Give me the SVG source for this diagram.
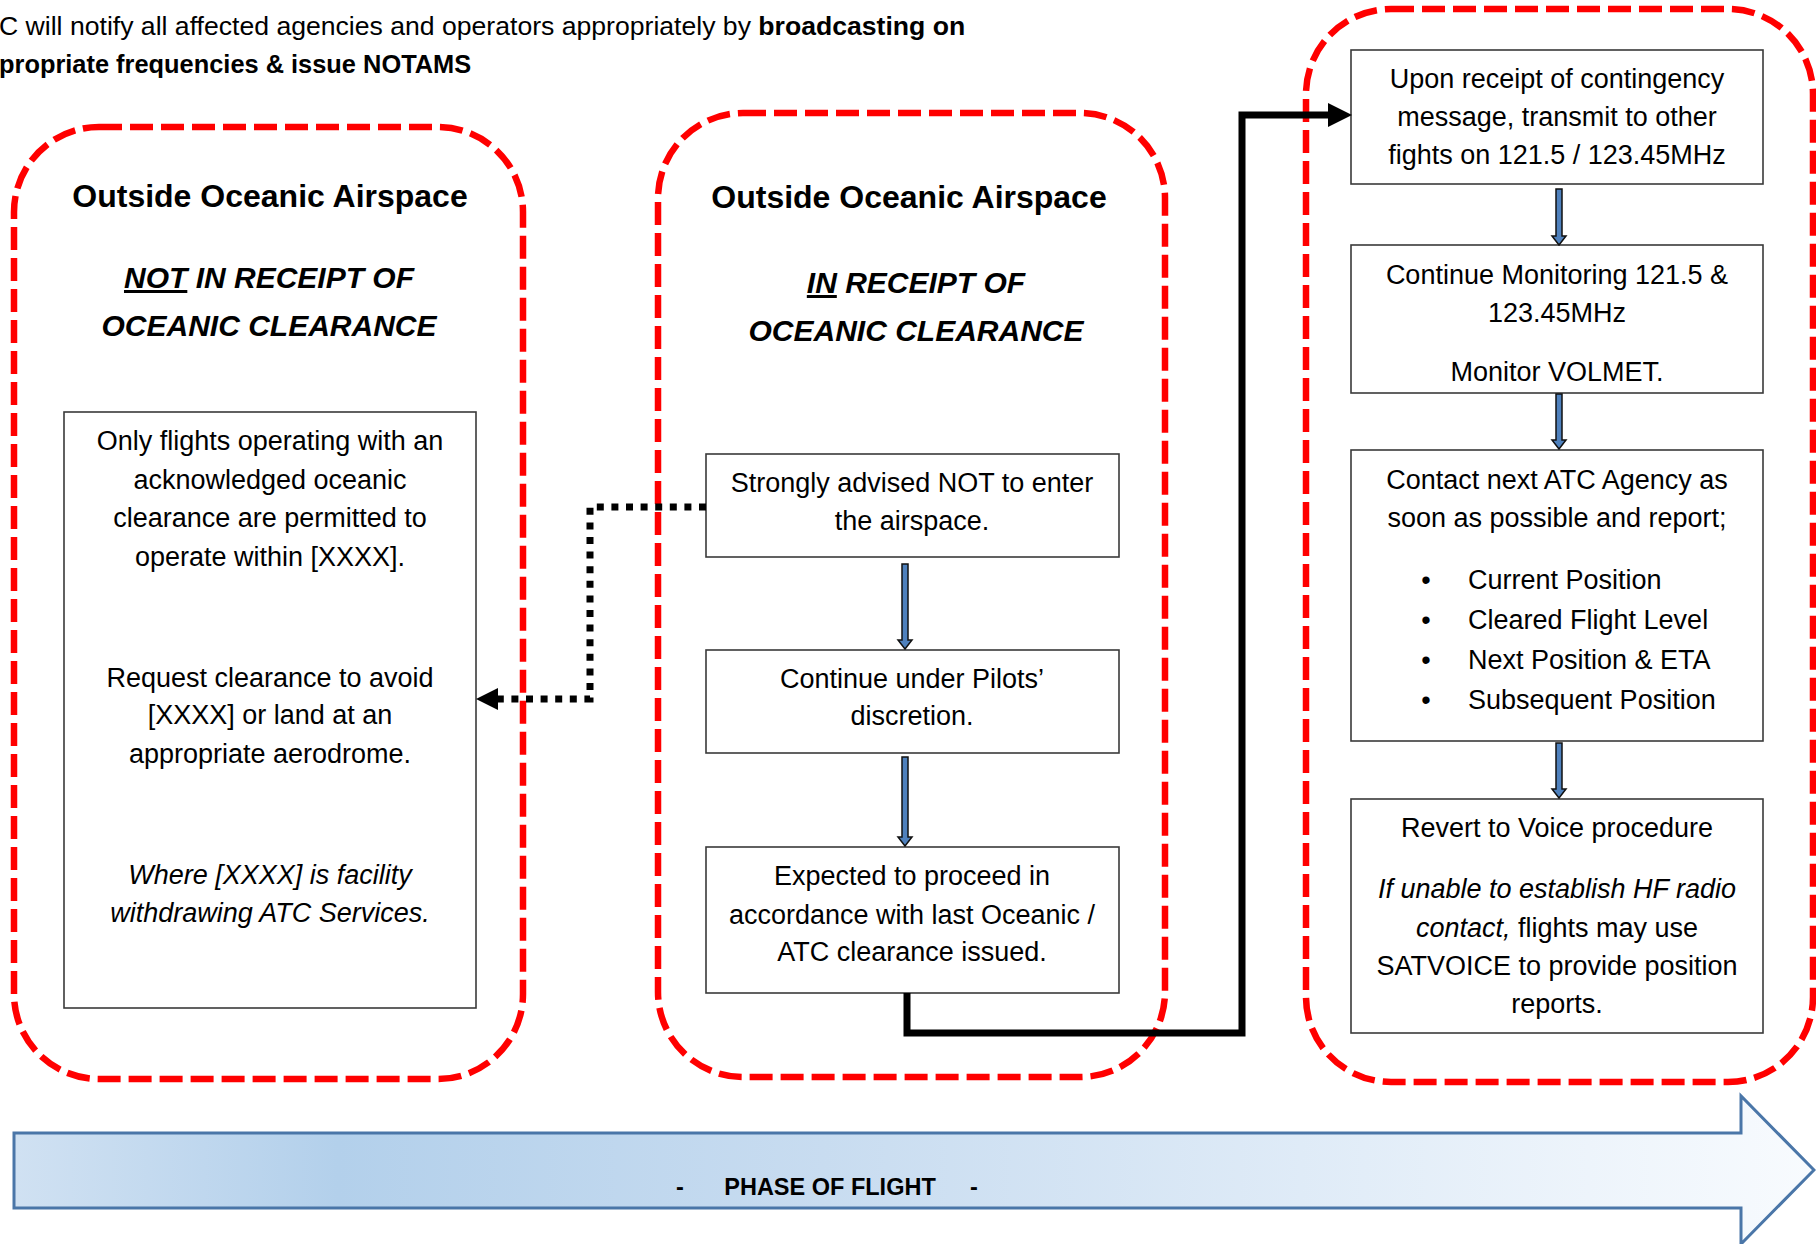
<svg xmlns="http://www.w3.org/2000/svg" width="1816" height="1244" viewBox="0 0 1816 1244">
<style>
text{font-family:"Liberation Sans",Arial,sans-serif;fill:#000}
.b{font-size:27px;text-anchor:middle}
.t{font-size:32px;font-weight:bold;text-anchor:middle}
.h{font-size:30px;font-weight:bold;font-style:italic;text-anchor:middle}
.i{font-style:italic}
.zone{fill:none;stroke:#ff0000;stroke-width:6.5;stroke-dasharray:23 8}
.box{fill:#fff;stroke:#3a3a3a;stroke-width:1.6}
.blue{fill:#4f81bd;stroke:#111;stroke-width:1.5;stroke-linejoin:miter}
</style>
<defs>
<linearGradient id="gr" x1="0" y1="0" x2="1" y2="0">
<stop offset="0" stop-color="#d0e1f2"/>
<stop offset="0.18" stop-color="#b3d0eb"/>
<stop offset="0.45" stop-color="#c8dcf0"/>
<stop offset="0.75" stop-color="#e2edf8"/>
<stop offset="1" stop-color="#f8fbfe"/>
</linearGradient>
<marker id="ah" markerUnits="userSpaceOnUse" markerWidth="24" markerHeight="24" viewBox="0 0 24 24" refX="0" refY="12" orient="auto">
<path d="M0,0 L24,12 L0,24 z" fill="#000"/>
</marker>
<marker id="ahd" markerUnits="userSpaceOnUse" markerWidth="22" markerHeight="22" viewBox="0 0 22 22" refX="0" refY="11" orient="auto">
<path d="M0,0 L22,11 L0,22 z" fill="#000"/>
</marker>
</defs>
<rect width="1816" height="1244" fill="#fff"/>

<g id="header">
<text x="-1" y="35" style="font-size:26.6px">C will notify all affected agencies and operators appropriately by <tspan font-weight="bold">broadcasting on</tspan></text>
<text x="-1" y="73" style="font-size:25.4px;font-weight:bold">propriate frequencies &amp; issue NOTAMS</text>
</g>

<g id="phase-arrow">
<path d="M14,1133 H1741 V1096 L1814,1170 L1741,1244 V1208 H14 Z" fill="url(#gr)" stroke="#4a76a8" stroke-width="3"/>
<text x="680" y="1195" style="font-size:23.5px;font-weight:bold" text-anchor="middle">-</text>
<text x="830" y="1195" style="font-size:23.5px;font-weight:bold" text-anchor="middle">PHASE OF FLIGHT</text>
<text x="974" y="1195" style="font-size:23.5px;font-weight:bold" text-anchor="middle">-</text>
</g>

<g id="zone-left">
<rect class="zone" x="14" y="127" width="509" height="952" rx="85" ry="85"/>
<text class="t" x="270" y="207">Outside Oceanic Airspace</text>
<text class="h" x="269" y="288"><tspan text-decoration="underline">NOT</tspan> IN RECEIPT OF</text>
<text class="h" x="269" y="336">OCEANIC CLEARANCE</text>
</g>

<g id="zone-middle">
<rect class="zone" x="658" y="113" width="507" height="964" rx="85" ry="85"/>
<text class="t" x="909" y="208">Outside Oceanic Airspace</text>
<text class="h" x="916" y="293"><tspan text-decoration="underline">IN</tspan> RECEIPT OF</text>
<text class="h" x="916" y="341">OCEANIC CLEARANCE</text>
</g>

<g id="zone-right">
<rect class="zone" x="1306" y="9" width="507" height="1073" rx="85" ry="85"/>
</g>

<g id="node-left-info">
<rect class="box" x="64" y="412" width="412" height="596"/>
<text class="b" x="270" y="450">Only flights operating with an</text>
<text class="b" x="270" y="489">acknowledged oceanic</text>
<text class="b" x="270" y="527">clearance are permitted to</text>
<text class="b" x="270" y="566">operate within [XXXX].</text>
<text class="b" x="270" y="687">Request clearance to avoid</text>
<text class="b" x="270" y="724">[XXXX] or land at an</text>
<text class="b" x="270" y="763">appropriate aerodrome.</text>
<text class="b i" x="270" y="884">Where [XXXX] is facility</text>
<text class="b i" x="270" y="922">withdrawing ATC Services.</text>
</g>

<g id="node-mid-1">
<rect class="box" x="706" y="454" width="413" height="103"/>
<text class="b" x="912" y="492">Strongly advised NOT to enter</text>
<text class="b" x="912" y="530">the airspace.</text>
</g>

<g id="node-mid-2">
<rect class="box" x="706" y="650" width="413" height="103"/>
<text class="b" x="912" y="688">Continue under Pilots’</text>
<text class="b" x="912" y="725">discretion.</text>
</g>

<g id="node-mid-3">
<rect class="box" x="706" y="847" width="413" height="146"/>
<text class="b" x="912" y="885">Expected to proceed in</text>
<text class="b" x="912" y="924">accordance with last Oceanic /</text>
<text class="b" x="912" y="961">ATC clearance issued.</text>
</g>

<g id="node-right-1">
<rect class="box" x="1351" y="50" width="412" height="134"/>
<text class="b" x="1557" y="88">Upon receipt of contingency</text>
<text class="b" x="1557" y="126">message, transmit to other</text>
<text class="b" x="1557" y="164">fights on 121.5 / 123.45MHz</text>
</g>

<g id="node-right-2">
<rect class="box" x="1351" y="245" width="412" height="148"/>
<text class="b" x="1557" y="284">Continue Monitoring 121.5 &amp;</text>
<text class="b" x="1557" y="322">123.45MHz</text>
<text class="b" x="1557" y="381">Monitor VOLMET.</text>
</g>

<g id="node-right-3">
<rect class="box" x="1351" y="450" width="412" height="291"/>
<text class="b" x="1557" y="489">Contact next ATC Agency as</text>
<text class="b" x="1557" y="527">soon as possible and report;</text>
<g style="font-size:27px">
<text x="1426" y="589" text-anchor="middle">•</text><text x="1468" y="589">Current Position</text>
<text x="1426" y="629" text-anchor="middle">•</text><text x="1468" y="629">Cleared Flight Level</text>
<text x="1426" y="669" text-anchor="middle">•</text><text x="1468" y="669">Next Position &amp; ETA</text>
<text x="1426" y="709" text-anchor="middle">•</text><text x="1468" y="709">Subsequent Position</text>
</g>
</g>

<g id="node-right-4">
<rect class="box" x="1351" y="799" width="412" height="234"/>
<text class="b" x="1557" y="837">Revert to Voice procedure</text>
<text class="b i" x="1557" y="898">If unable to establish HF radio</text>
<text class="b" x="1557" y="937"><tspan font-style="italic">contact,</tspan> flights may use</text>
<text class="b" x="1557" y="975">SATVOICE to provide position</text>
<text class="b" x="1557" y="1013">reports.</text>
</g>

<g id="connectors">
<path d="M706,507 H590 V699 H498" fill="none" stroke="#000" stroke-width="7" stroke-dasharray="7 7.6" marker-end="url(#ahd)"/>
<path d="M907,993 V1033 H1242 V115 H1328" fill="none" stroke="#000" stroke-width="7" stroke-linejoin="miter" marker-end="url(#ah)"/>
<polygon class="blue" points="902,564 908,564 908,640 912,640 905,649 898,640 902,640"/>
<polygon class="blue" points="902,757 908,757 908,837 912,837 905,846 898,837 902,837"/>
<polygon class="blue" points="1556,189 1562,189 1562,236 1566,236 1559,245 1552,236 1556,236"/>
<polygon class="blue" points="1556,394 1562,394 1562,440 1566,440 1559,449 1552,440 1556,440"/>
<polygon class="blue" points="1556,743 1562,743 1562,789 1566,789 1559,798 1552,789 1556,789"/>
</g>
</svg>
